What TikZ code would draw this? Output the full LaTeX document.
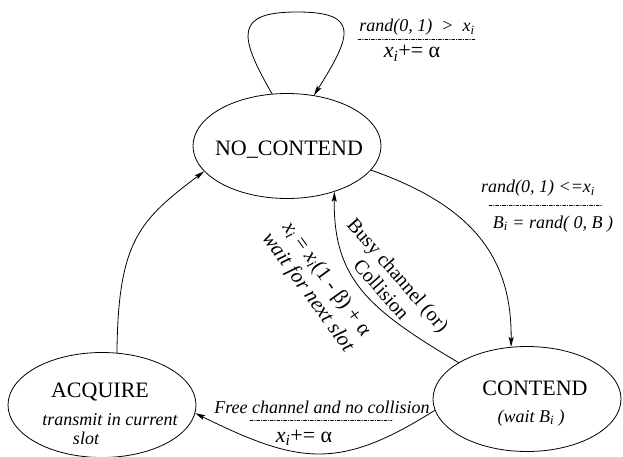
\documentclass[tikz,border=0pt]{standalone}
\usepackage{fontspec}
\setmainfont{Liberation Serif}
\usetikzlibrary{arrows.meta,shapes.geometric}
\newcommand\subi[1]{\textit{#1}\textsubscript{\textit{i}}}
\begin{document}
\begin{tikzpicture}[x=1pt, y=1pt, line width=.8pt, line join=round, line cap=round, >={Stealth[length=10pt,width=5pt,inset=2pt]},
	state/.style={draw, ellipse, minimum width=188pt, minimum height=105pt, inner sep=0pt},
	big/.style={font=\fontsize{22}{24}\selectfont, inner sep=0pt, anchor=base},
	cond/.style={font=\fontsize{18}{20}\selectfont\itshape, inner sep=0pt, anchor=base},
	act/.style={font=\fontsize{20}{22}\selectfont, inner sep=0pt, anchor=base},
	guard/.style={line width=.5pt, dash pattern=on 3pt off 1.5pt on .7pt off 1.5pt}]
	\useasboundingbox (0,0) rectangle (623,-457);
	\node[state] (nc) at (287,-146) {};
	\node[state] (acq) at (102,-405) {};
	\node[state] (ct) at (527,-399) {};
	\node[big] (nct) at (289,-156) {NO\_CONTEND};
	\node[big] (acqt) at (100,-397) {ACQUIRE};
	\node[cond] (acqs) at (110,-425) {transmit in current};
	\node[cond] (acqs2) at (86,-444) {slot};
	\node[big] (ctt) at (535,-395) {CONTEND};
	\node[cond] (cts) at (531,-422) {(wait \subi{B} )};
	\draw[->] (nc.106) .. controls (238,-35) and (235,-12) .. (297,-12) .. controls (360,-12) and (352,-35) .. (nc.62);
	\draw[->] (nc.-16) .. controls (470,-205) and (512,-255) .. (ct.107);
	\draw[->] (ct.152) .. controls (370,-310) and (333,-280) .. (nc.-44);
	\draw[->] (ct.187) .. controls (340,-470) and (300,-465) .. (acq.-5);
	\draw[->] (acq.74) .. controls (118,-240) and (140,-220) .. (nc.197);
	\node[cond] (loopc) at (417,-32) {rand(0, 1)\ \ >\ \ \subi{x}};
	\draw[guard] (358,-39) -- (475,-39);
	\node[act, font=\fontsize{22}{24}\selectfont] (loopa) at (412,-58) {\subi{x}+= α};
	\node[cond] (goc) at (538,-193) {rand(0, 1) <=\subi{x}};
	\draw[guard] (489,-205) -- (602,-205);
	\node[cond] (goa) at (553,-228) {\subi{B}\ =\ rand(\ 0,\ B\ )};
	\node[act, anchor=center, rotate=-49, align=center] (busy) at (390,-282) {Busy channel (or)\\Collision};
	\node[act, anchor=center, rotate=-54, align=center, font=\fontsize{21}{23}\selectfont] (back) at (317,-286) {\subi{x}\ =\ \subi{x}(1 - β) + α\\\textit{wait for next slot}};
	\node[cond] (freec) at (322,-413) {Free channel and no collision};
	\draw[guard] (250,-420) -- (392,-420);
	\node[act, font=\fontsize{22}{24}\selectfont] (freea) at (304,-442) {\subi{x}+= α};
\end{tikzpicture}
\end{document}
